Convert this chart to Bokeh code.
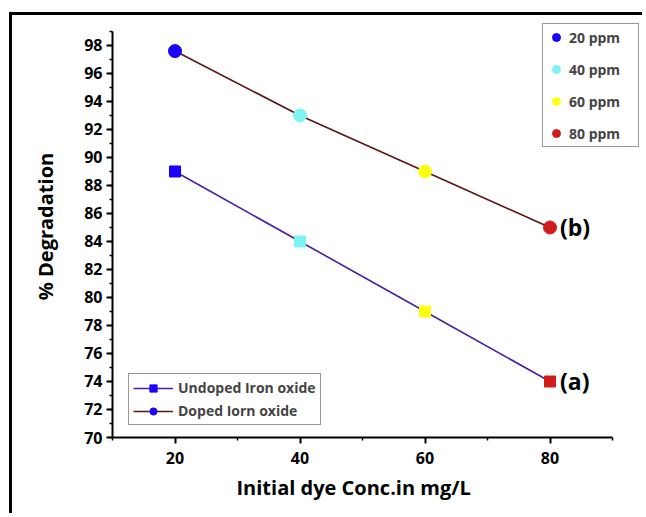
from bokeh.plotting import figure
from bokeh.models import (Range1d, FixedTicker, Legend, LegendItem, ColumnDataSource, Title)
from bokeh.core.properties import value
from bokeh.embed import file_html
from bokeh.resources import INLINE

# ---- data ----
conc = [20, 40, 60, 80]
undoped = [89, 84, 79, 74]
doped = [97.6, 93, 89, 85]
ppm_labels = ["20 ppm", "40 ppm", "60 ppm", "80 ppm"]
point_colors = ["#1a00ff", "#7ef3f3", "#ffff14", "#d01c1c"]
series_names = ["Undoped Iron oxide", "Doped Iorn oxide"]
curve_tags = ["(a)", "(b)"]
tag_x = [80, 80]
tag_y = [74, 85]
x_ticks = [20, 40, 60, 80]
x_minor = [10, 30, 50, 70, 90]
y_ticks = list(range(70, 100, 2))
y_minor = list(range(70, 100, 1))
x_title = "Initial dye Conc.in mg/L"
y_title = "% Degradation"

FONT = "Open Sans"

p = figure(width=633, height=501, output_backend="svg", toolbar_location=None,
           x_range=Range1d(10, 95.28), y_range=Range1d(70, 100.14),
           min_border_left=100, min_border_right=0, min_border_top=0,
           min_border_bottom=79)
p.outline_line_color = None
p.xgrid.visible = False
p.ygrid.visible = False
p.background_fill_color = "white"
p.border_fill_color = "white"
# outer black frame (its right and bottom sides fall outside the picture)
p.styles = {"border-left": "3.5px solid black", "border-top": "3.5px solid black",
            "margin-left": "9px", "margin-top": "12px"}

und_src = ColumnDataSource(dict(x=conc, y=undoped, c=point_colors))
dop_src = ColumnDataSource(dict(x=conc, y=doped, c=point_colors))

und_line = p.line("x", "y", source=und_src, line_color="#4a1fa0", line_width=1.6)
dop_line = p.line("x", "y", source=dop_src, line_color="#5c1414", line_width=1.6)
und_pts = p.scatter("x", "y", source=und_src, marker="square", size=11,
                    fill_color="c", line_color="c")
dop_pts = p.scatter("x", "y", source=dop_src, marker="circle", size=13,
                    fill_color="c", line_color="c")

p.text(x=tag_x, y=tag_y, text=curve_tags, x_offset=10, text_baseline="middle",
       text_align="left", text_font=value(FONT), text_font_style="bold",
       text_font_size="23px", text_color="black")

# axes
for ax in (p.xaxis[0], p.yaxis[0]):
    ax.axis_line_width = 2
    ax.axis_line_color = "black"
    ax.major_tick_line_width = 2
    ax.minor_tick_line_width = 1.5
    ax.major_tick_out = 6
    ax.major_tick_in = 0
    ax.minor_tick_out = 3
    ax.minor_tick_in = 0
    ax.major_label_text_font = FONT
    ax.major_label_text_font_style = "bold"
    ax.major_label_text_font_size = "16px"
    ax.major_label_text_color = "black"
    ax.axis_label_text_font = FONT
    ax.axis_label_text_font_style = "bold"
    ax.axis_label_text_font_size = "20px"
    ax.axis_label_text_color = "black"

p.xaxis[0].bounds = (10, 90)
p.yaxis[0].bounds = (70, 99)
p.xaxis[0].ticker = FixedTicker(ticks=x_ticks, minor_ticks=x_minor)
p.yaxis[0].ticker = FixedTicker(ticks=y_ticks, minor_ticks=y_minor)
p.yaxis[0].axis_label = y_title
p.xaxis[0].major_label_standoff = 8
p.yaxis[0].major_label_standoff = 4
p.yaxis[0].axis_label_standoff = 22

# x-axis title, centred under the axis line (not under the wider frame)
p.add_layout(Title(text=x_title, align="left", offset=124, standoff=10,
                   text_font=FONT, text_font_style="bold", text_font_size="20px",
                   text_color="black"), "below")

# legend: concentration colours
ppm_items = [LegendItem(label=ppm_labels[i], renderers=[dop_pts], index=i)
             for i in range(len(ppm_labels))]
leg1 = Legend(items=ppm_items, location=(430, 290), orientation="vertical",
              padding=3, spacing=12, margin=0, glyph_width=20, glyph_height=20,
              label_height=20, label_width=66, label_standoff=3,
              label_text_font=FONT, label_text_font_style="bold",
              label_text_font_size="14px", border_line_color="#333333",
              border_line_width=1.5, background_fill_color="white",
              background_fill_alpha=1)
p.add_layout(leg1)

# legend: series
ser_items = [LegendItem(label=series_names[0], renderers=[und_line, und_pts], index=0),
             LegendItem(label=series_names[1], renderers=[dop_line, dop_pts], index=0)]
leg2 = Legend(items=ser_items, location=(16, 12), orientation="vertical",
              padding=4, spacing=4, margin=0, glyph_width=40, glyph_height=18,
              label_height=18, label_standoff=5,
              label_text_font=FONT, label_text_font_style="bold",
              label_text_font_size="14px", border_line_color="#333333",
              border_line_width=1.5, background_fill_color="white",
              background_fill_alpha=1)
p.add_layout(leg2)

open("out.html", "w").write(file_html(p, INLINE))
